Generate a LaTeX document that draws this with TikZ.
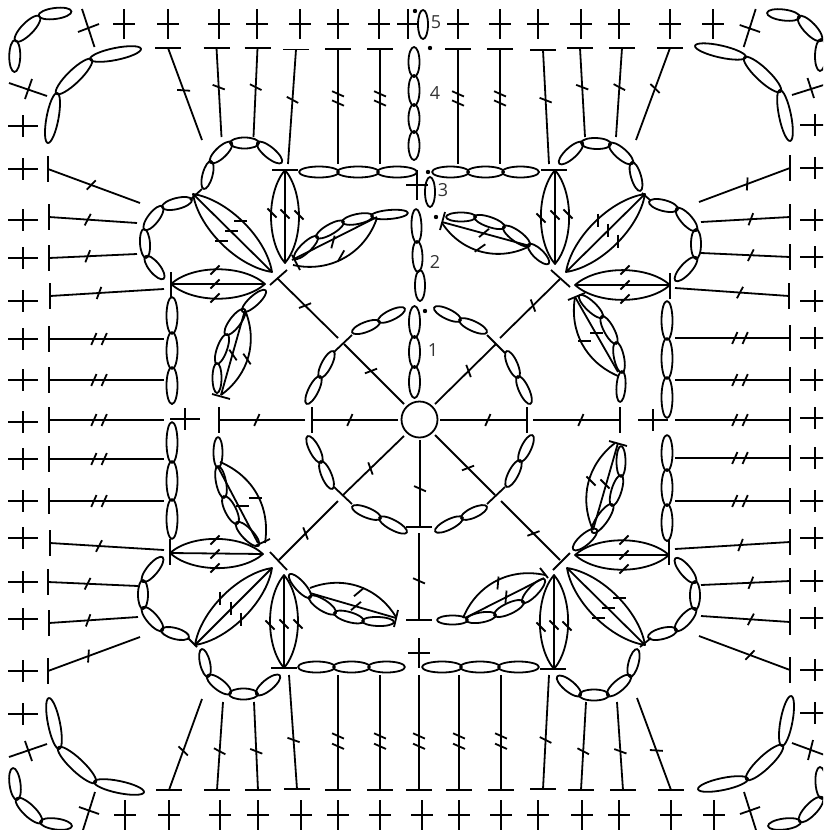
\documentclass[tikz,border=0pt]{standalone}
\usepackage{fontspec}
\setmainfont{Open Sans}
\usetikzlibrary{calc}
\tikzset{st/.style={draw=black, line width=1.8pt, line join=round}}
\newcommand{\scv}[2]{\draw[st] (#1,#2-15) -- (#1,#2+15) (#1-11,#2) -- (#1+11,#2);}
\newcommand{\sch}[2]{\draw[st] (#1-15,#2) -- (#1+15,#2) (#1,#2-11) -- (#1,#2+11);}
\newcommand{\barh}[2]{\draw[st] (#1-13,#2) -- (#1+13,#2);}
\newcommand{\barv}[2]{\draw[st] (#1,#2-13) -- (#1,#2+13);}
\newcommand{\chst}[3]{\draw[st] let \p1=($#2-#1$), \n1={atan2(\y1,\x1)}, \n2={veclen(\x1,\y1)/2+1} in ($#1!.5!#2$) ellipse [x radius=\n2, y radius=#3pt, rotate=\n1];}
\newcommand{\dc}[3]{\draw[st] #1 -- #2;
  \foreach \pos in {#3}{\coordinate (tk) at ($#1!\pos!#2$);
    \draw[st] ($(tk)!6.5pt!66:#2$) -- ($(tk)!-6.5pt!66:#2$);}}
\newcommand{\tk}[2]{\draw[st] #1 ++(#2:6.5pt) -- ++(#2+180:13pt);}
\newcommand{\fan}[3]{\draw[st] #1 to[bend left=#3, looseness=.8] #2 to[bend left=#3, looseness=.8] #1 -- #2;}
\begin{document}
\begin{tikzpicture}[x=1pt, y=-1pt]
\useasboundingbox (0,0) rectangle (823,830);
\clip (0,0) rectangle (823,830);
% border crosses
\foreach \xc in {124,168,219,257,300,338,379,408,458,500,538,581,619,670,713} \scv{\xc}{24};
\foreach \xc in {125,169,220,258,301,338,380,422,459,501,538,582,619,671,714} \scv{\xc}{815};
\foreach \yc in {126,169,220,258,301,339,380,422,459,501,538,582,619,671,714} \sch{23}{\yc};
\foreach \yc in {125,168,220,257,301,338,380,418,458,501,538,581,618,670,713} \sch{815}{\yc};
\sch{185}{419} \sch{653}{420} \scv{417}{185} \scv{419}{653}
\draw[st] (82,9) -- (94.5,47) (78,32) -- (99,24);
\draw[st] (9,83) -- (47,96) (25,99) -- (32,79);
\draw[st] (755.7,9) -- (743.7,47) (739.7,25) -- (760,32);
\draw[st] (792,95) -- (830,83) (807.5,78) -- (814,98);
\draw[st] (95,792) -- (83,830) (79,807) -- (99,814);
\draw[st] (9,757) -- (47,744) (25,741) -- (32,761);
\draw[st] (744,792) -- (756,830) (740,814) -- (760,807);
\draw[st] (792,743) -- (830,757) (813,740) -- (808,760);
% corner chains
\chst{(39.5,15.5)}{(70.5,11.5)}{5.5} \chst{(16,40.5)}{(39,17)}{6} \chst{(15,41)}{(14.5,71)}{5.5}
\chst{(91,59)}{(140,49)}{6} \chst{(57,93)}{(91,60)}{6.5} \chst{(57,94)}{(48,142)}{6}
\chst{(768,13)}{(799,17)}{5.5} \chst{(799,17)}{(821,40)}{6} \chst{(821,40)}{(820,70)}{5.5}
\chst{(696,46)}{(745,57)}{6} \chst{(745,58)}{(780,91)}{6.5} \chst{(780,91)}{(790,140)}{6}
\chst{(13,769)}{(17,799)}{5.5} \chst{(17,799)}{(41,822)}{6} \chst{(41,822)}{(71,826)}{5.5}
\chst{(95,782)}{(143,792)}{6} \chst{(59,748)}{(95,782)}{6.5} \chst{(49,699)}{(59,748)}{6}
\chst{(769,826)}{(800,822)}{5.5} \chst{(800,821)}{(822,798)}{6} \chst{(822,798)}{(820,768)}{5.5}
\chst{(699,789)}{(747,779)}{6} \chst{(747,779)}{(782,746)}{6.5} \chst{(782,745)}{(791,697)}{6}
% outer stems, top
\barh{168}{48} \dc{(168,48)}{(202,140)}{.46}
\barh{216.5}{48} \dc{(216.5,48)}{(221.5,137)}{.44}
\barh{257.5}{48} \dc{(257.5,48)}{(253.5,137)}{.44}
\barh{296}{49.5} \dc{(296,49.5)}{(288,164)}{.44}
\foreach \xc in {338,380,458,500}{\barh{\xc}{49} \dc{(\xc,49)}{(\xc,164)}{.39,.47}}
\barh{543}{50} \dc{(543,50)}{(549,164)}{.44}
\barh{580}{48} \dc{(580,48)}{(585,137)}{.44}
\barh{622}{48} \dc{(622,48)}{(616,137)}{.44}
\barh{670}{48} \dc{(670,48)}{(636,140)}{.44}
% outer stems, bottom
\barh{169}{790} \dc{(169,790)}{(202,699)}{.43}
\barh{217}{790} \dc{(217,790)}{(223,702)}{.44}
\barh{258}{790} \dc{(258,790)}{(254,702)}{.44}
\barh{297}{789} \dc{(297,789)}{(289,675)}{.43}
\foreach \xc in {338,380,419,459,501}{\barh{\xc}{790} \dc{(\xc,790)}{(\xc,675)}{.38,.47}}
\barh{543}{789} \dc{(543,789)}{(549,675)}{.43}
\barh{581}{790} \dc{(581,790)}{(586,702)}{.44}
\barh{623}{790} \dc{(623,790)}{(617,702)}{.44}
\barh{671}{790} \dc{(671,790)}{(637,698)}{.43}
% outer stems, left
\barv{48}{169} \dc{(48,169)}{(140,203)}{.47}
\barv{49}{217} \dc{(49,217)}{(137,223)}{.44}
\barv{49}{258} \dc{(49,258)}{(137,254)}{.44}
\barv{50}{296} \dc{(50,296)}{(164,289)}{.43}
\foreach \yc in {339,380,420,459,501}{\barv{49}{\yc} \dc{(49,\yc)}{(164,\yc)}{.39,.48}}
\barv{50}{543} \dc{(50,543)}{(164,550)}{.43}
\barv{48}{582} \dc{(48,582)}{(138,586)}{.44}
\barv{49}{623} \dc{(49,623)}{(138,617)}{.44}
\barv{48}{671} \dc{(48,671)}{(140,637)}{.44}
% outer stems, right
\barv{790}{168} \dc{(790,168)}{(699,202)}{.47}
\barv{790}{217} \dc{(790,217)}{(701,222)}{.44}
\barv{790}{257} \dc{(790,257)}{(701,253)}{.44}
\barv{789}{296} \dc{(789,296)}{(675,288)}{.43}
\foreach \yc in {338,380,420,458,501}{\barv{790}{\yc} \dc{(790,\yc)}{(675,\yc)}{.39,.48}}
\barv{790}{542} \dc{(790,542)}{(675,549)}{.43}
\barv{790}{581} \dc{(790,581)}{(701,585)}{.44}
\barv{790}{622} \dc{(790,622)}{(701,616)}{.44}
\barv{790}{670} \dc{(790,670)}{(699,636)}{.44}
% straight chains
\foreach \ya/\yb in {48/76,76/105,105/132,132/159} \chst{(414,\ya)}{(414,\yb)}{5.5};
\foreach \ya/\yb in {307/337,337/367,367/397} \chst{(414.5,\ya)}{(414.5,\yb)}{5.5};
\chst{(423,11)}{(423,38)}{5} \chst{(430,178)}{(430,206)}{5}
\chst{(416,210)}{(417,242)}{5} \chst{(417,242)}{(418,271)}{5} \chst{(420,271)}{(420,300)}{5}
\foreach \xa/\xb in {300/338,338/378,378/416,433/468,468/503,503/538} \chst{(\xa,172)}{(\xb,172)}{5.5};
\foreach \xa/\xb in {299/334,334/369,369/404,423/461,461/499,499/538} \chst{(\xa,667)}{(\xb,667)}{5.5};
\foreach \ya/\yb in {298/333,333/368,368/403,423/462,462/500,500/538} \chst{(172,\ya)}{(172,\yb)}{5.5};
\foreach \ya/\yb in {302/339,339/378,378/417,436/470,470/505,505/540} \chst{(667,\ya)}{(667,\yb)}{5.5};
% centre ring
\draw[st] (419.5,419.5) circle (18pt);
\barv{312}{420} \dc{(398,420)}{(312,420)}{.56}
\barv{219}{420} \dc{(305,420)}{(219,420)}{.56}
\barv{527}{420} \dc{(440,420)}{(527,420)}{.55}
\barv{620}{420} \dc{(533,420)}{(620,420)}{.55}
\barh{419}{527} \dc{(420,440)}{(420,527)}{.56}
\barh{419}{620} \dc{(419,533)}{(419,620)}{.55}
\dc{(404,404)}{(344,344)}{.55} \draw[st] (334,352) -- (352,335);
\dc{(338,338)}{(277,278)}{.54} \draw[st] (270,285) -- (287,270);
\dc{(435,404)}{(496,344)}{.55} \draw[st] (487,335) -- (505,353);
\dc{(500,338)}{(560,279)}{.55} \draw[st] (551,270) -- (570,287);
\dc{(404,436)}{(343,495)}{.55} \draw[st] (334,487) -- (352,504);
\dc{(338,501)}{(279,560)}{.55} \draw[st] (270,552) -- (287,570);
\dc{(435,435)}{(495,495)}{.55} \draw[st] (487,504) -- (505,487);
\dc{(501,501)}{(560,560)}{.55} \draw[st] (553,570) -- (570,553);
\chst{(404,309)}{(379,321)}{5} \chst{(379,322)}{(353,332)}{5}
\chst{(435,308)}{(460,320)}{5} \chst{(460,320)}{(486,332)}{5}
\chst{(333,352)}{(320,377)}{5} \chst{(320,377)}{(307,403)}{5}
\chst{(507,352)}{(518,377)}{5} \chst{(518,377)}{(530,403)}{5}
\chst{(308,437)}{(321,462)}{5} \chst{(321,462)}{(332,488)}{5}
\chst{(532,436)}{(520,461)}{5} \chst{(520,461)}{(507,486)}{5}
\chst{(353,507)}{(380,518)}{5} \chst{(380,518)}{(406,532)}{5}
\chst{(486,507)}{(462,518)}{5} \chst{(462,518)}{(436,531)}{5}
% top left cluster
\fan{(193,194)}{(272,272)}{36}
\foreach \xc/\yc in {240.7/220.7,231/230.7,221/240.7} \tk{(\xc,\yc)}{0};
\draw[st] (190,200) -- (202,189);
\chst{(204,188)}{(211,162)}{5} \chst{(211,162)}{(231,143)}{5.5} \chst{(231,143)}{(258,143)}{5.5} \chst{(258,143)}{(281,162)}{5.5}
\chst{(191,200)}{(163,207)}{5.5} \chst{(162,207)}{(145,229)}{5.5} \chst{(144,230)}{(146,257)}{5} \chst{(146,257)}{(163,278)}{5.5}
\barh{285}{170} \fan{(285,170)}{(285,263)}{40}
\foreach \xc/\yc in {272/213,285/214,299/215} \tk{(\xc,\yc)}{-45};
\barv{171}{285} \fan{(171,284)}{(265,284)}{42}
\foreach \xc/\yc in {215/270,215/284,215/298} \tk{(\xc,\yc)}{45};
\draw[st] (212,394) -- (230,399);
\draw[st] (221,395) -- (245,310) to[bend left=38] (221,395);
\tk{(233,355)}{-55} \tk{(247,359)}{-55}
\chst{(265,291)}{(243,311)}{5} \chst{(244,310)}{(226,334)}{5.5} \chst{(227,335)}{(217,363)}{5} \chst{(217,364)}{(217,392)}{4.5}
\draw[st] (292,255) -- (300,270);
\draw[st] (292,260) -- (377,217);
\draw[st] (293,265) to[bend right=42] (377,218);
\tk{(333,242)}{75} \tk{(341,256)}{60}
\chst{(295,258)}{(317,237)}{5} \chst{(317,237)}{(343,222)}{5} \chst{(343,222)}{(372,216)}{5} \chst{(372,216)}{(407,213)}{4.5}
% top right cluster
\fan{(645,194)}{(566,272)}{36}
\foreach \xc/\yc in {598/220,608/230,618/241} \tk{(\xc,\yc)}{90};
\draw[st] (642,193) -- (650,200);
\chst{(640,190)}{(632,163)}{5} \chst{(632,163)}{(610,144)}{5.5} \chst{(610,144)}{(582,143)}{5.5} \chst{(582,143)}{(560,163)}{5.5}
\chst{(650,202)}{(677,209)}{5.5} \chst{(677,209)}{(696,230)}{5.5} \chst{(696,230)}{(696,258)}{5} \chst{(696,258)}{(676,280)}{5.5}
\barh{554}{170} \fan{(555,170)}{(555,264)}{40}
\foreach \xc/\yc in {541/218,555/215,568/214} \tk{(\xc,\yc)}{-45};
\barv{670}{286} \fan{(575,285)}{(670,285)}{42}
\foreach \xc/\yc in {625/270,625/285,625/299} \tk{(\xc,\yc)}{45};
\draw[st] (568,300) -- (585,293);
\draw[st] (575,297) -- (618,372);
\draw[st] (575,297) to[bend right=38] (618,376);
\tk{(596,333)}{0} \tk{(584,341)}{0}
\chst{(580,296)}{(602,317)}{5} \chst{(602,317)}{(616,343)}{5} \chst{(616,343)}{(622,372)}{5} \chst{(622,372)}{(620,401)}{4.5}
\draw[st] (445,212) -- (440,230);
\draw[st] (442,222) -- (530,246);
\draw[st] (442,223) to[bend right=42] (530,246);
\tk{(484,233)}{40} \tk{(480,248)}{35}
\chst{(447,217)}{(475,217)}{4.5} \chst{(475,217)}{(504,227)}{5} \chst{(504,227)}{(529,245)}{5.5} \chst{(529,245)}{(548,263)}{5}
% bottom left cluster
\fan{(272,568)}{(195,645)}{36}
\foreach \xc/\yc in {220/598,231/608,241/619} \tk{(\xc,\yc)}{90};
\draw[st] (188,638) -- (197,647);
\chst{(202,650)}{(208,676)}{5} \chst{(208,676)}{(230,693)}{5.5} \chst{(230,694)}{(257,694)}{5.5} \chst{(257,694)}{(279,676)}{5.5}
\chst{(188,637)}{(162,630)}{5.5} \chst{(162,630)}{(143,608)}{5.5} \chst{(143,608)}{(143,581)}{5} \chst{(143,581)}{(162,558)}{5.5}
\barh{284}{668} \fan{(284,668)}{(284,575)}{40}
\foreach \xc/\yc in {270/625,284/624,298/624} \tk{(\xc,\yc)}{-45};
\barv{170}{552} \fan{(170,553)}{(263,554)}{42}
\foreach \xc/\yc in {215/540,215/554,215/568} \tk{(\xc,\yc)}{45};
\draw[st] (255,546) -- (270,539);
\draw[st] (218,467) -- (258,543);
\draw[st] (220,462) to[bend left=38] (265,543);
\tk{(242,506)}{0} \tk{(255,498)}{0}
\chst{(218,438)}{(218,467)}{4.5} \chst{(218,467)}{(224,497)}{5} \chst{(224,497)}{(237,523)}{5.5} \chst{(237,523)}{(258,545)}{5.5}
\draw[st] (398,610) -- (394,627);
\draw[st] (310,593) -- (396,618);
\draw[st] (310,588) to[bend left=40] (396,617);
\tk{(359,592)}{40} \tk{(356,606)}{40}
\chst{(290,575)}{(310,597)}{5} \chst{(310,597)}{(335,613)}{5.5} \chst{(335,613)}{(363,621)}{5} \chst{(363,621)}{(393,622)}{4.5}
% bottom right cluster
\fan{(567,568)}{(645,645)}{36}
\foreach \xc/\yc in {619/598,608/608,598/618} \tk{(\xc,\yc)}{0};
\draw[st] (640,647) -- (651,638);
\chst{(637,650)}{(630,676)}{5} \chst{(630,676)}{(608,695)}{5.5} \chst{(608,695)}{(580,695)}{5.5} \chst{(580,695)}{(558,677)}{5.5}
\chst{(649,637)}{(676,630)}{5.5} \chst{(676,630)}{(695,609)}{5.5} \chst{(695,609)}{(695,582)}{5} \chst{(695,582)}{(676,559)}{5.5}
\barh{553}{669} \fan{(554,669)}{(554,575)}{40}
\foreach \xc/\yc in {541/627,554/625,567/626} \tk{(\xc,\yc)}{-45};
\barv{669}{552} \fan{(575,555)}{(669,555)}{42}
\foreach \xc/\yc in {624/540,624/555,624/569} \tk{(\xc,\yc)}{45};
\draw[st] (609,441) -- (627,446);
\draw[st] (618,443) -- (593,530);
\draw[st] (615,443) to[bend right=38] (593,530);
\tk{(591,481)}{-45} \tk{(605,484)}{-45}
\chst{(621,447)}{(621,476)}{4.5} \chst{(621,476)}{(612,505)}{5} \chst{(612,505)}{(593,532)}{5.5} \chst{(596,530)}{(574,549)}{5.5}
\draw[st] (540,568) -- (548,578);
\draw[st] (465,618) -- (544,578);
\draw[st] (463,618) to[bend left=40] (545,575);
\tk{(498,583)}{85} \tk{(506,597)}{85}
\chst{(438,620)}{(467,620)}{4.5} \chst{(467,620)}{(495,615)}{5} \chst{(495,615)}{(523,602)}{5.5} \chst{(523,602)}{(544,580)}{5}
% dots and round numbers
\foreach \xc/\yc in {415/11,430/48,428/172,436/217,425/311} \fill (\xc,\yc) circle (2.2pt);
\tikzset{lab/.style={inner sep=0pt, text=black!80, font=\fontsize{18}{20}\selectfont}}
\node[lab] (rnd1) at (433,350) {1};
\node[lab] (rnd2) at (435,262) {2};
\node[lab] (rnd3) at (443,190) {3};
\node[lab] (rnd4) at (435,93) {4};
\node[lab] (rnd5) at (436,22) {5};
\end{tikzpicture}
\end{document}
